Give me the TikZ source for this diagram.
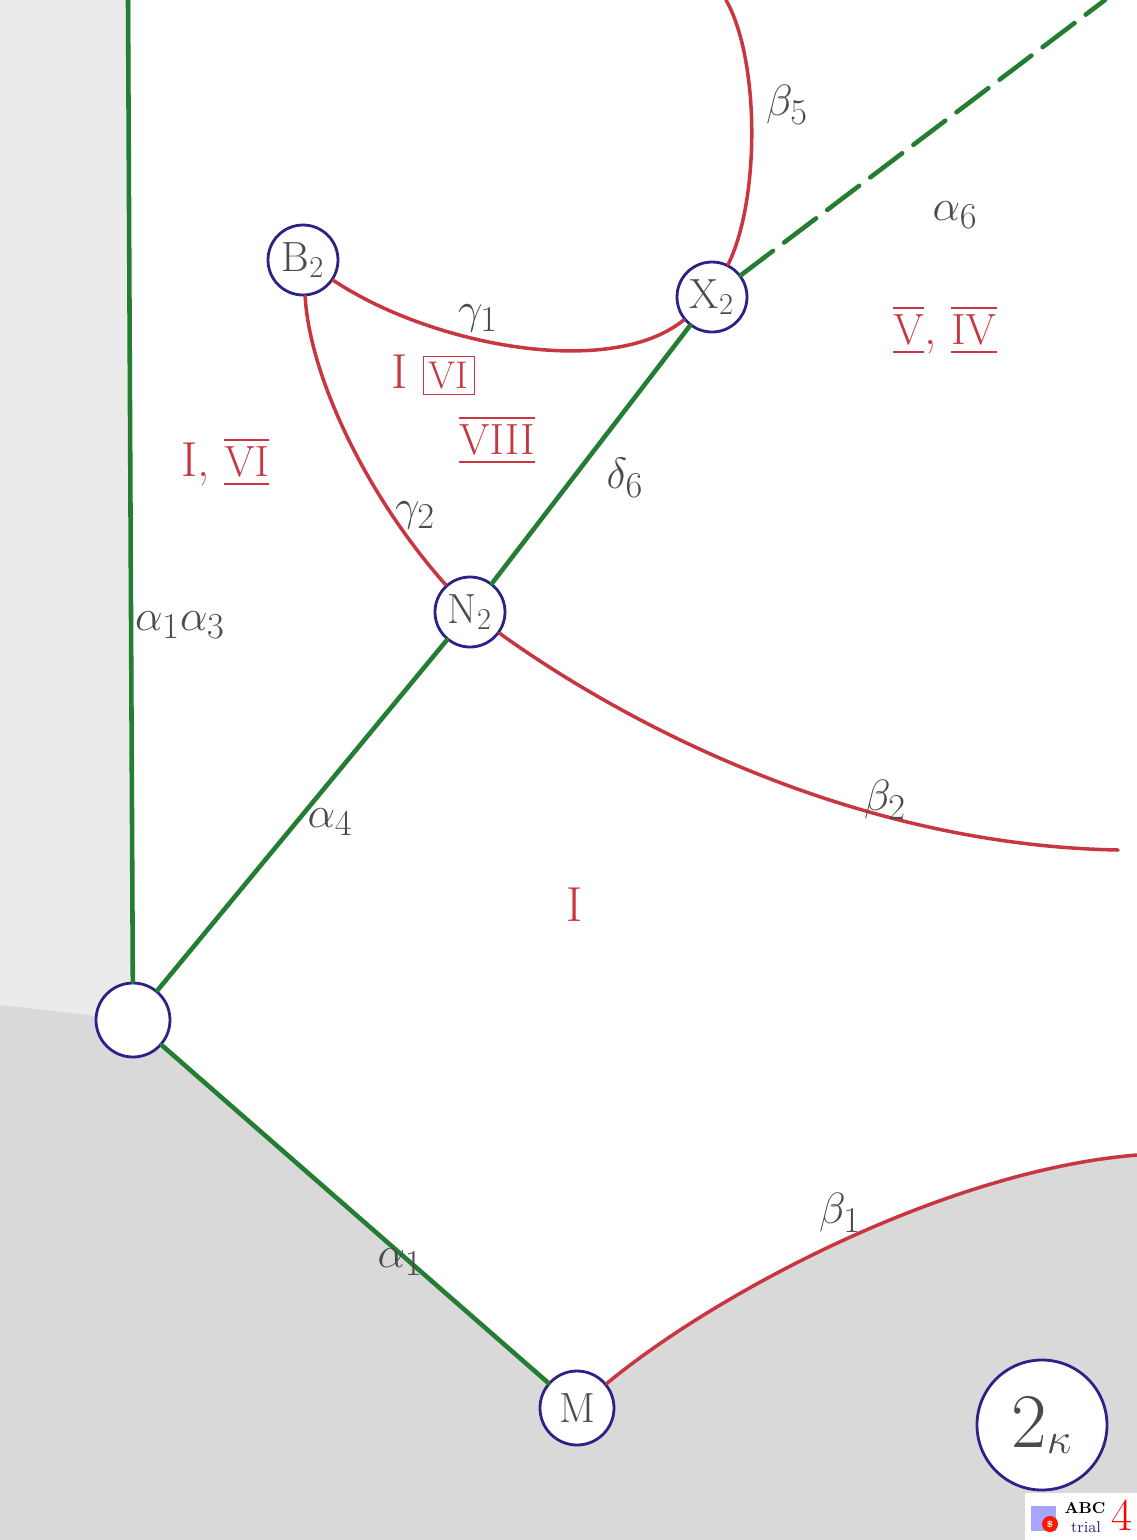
\documentclass[tikz,border=0pt]{standalone}
\usepackage{amsmath,amssymb}
\usepackage{tikz}
\usetikzlibrary{positioning,arrows.meta}
\usepackage{xcolor}

\definecolor{penred}{RGB}{200,55,65}
\definecolor{pengreen}{RGB}{35,125,50}
\definecolor{penblue}{RGB}{45,35,135}
\definecolor{pencil}{RGB}{75,75,75}
\newcommand{\barnum}[1]{$\overline{\underline{\mathrm{#1}}}$}

\tikzset{
  vert/.style={circle,draw=penblue,line width=1.6pt,fill=white,inner sep=0pt,
    minimum size=14mm,text=pencil,font=\fontsize{24}{26}\selectfont},
  aedge/.style={draw=pengreen,line width=2.6pt,line cap=round},
  bedge/.style={draw=penred,line width=2pt,line cap=round},
  glabel/.style={text=pencil,font=\fontsize{28}{30}\selectfont},
  rlabel/.style={text=penred,font=\fontsize{28}{30}\selectfont}
}

\begin{document}
\begin{tikzpicture}[x=0.2mm,y=-0.2mm]
\useasboundingbox (0,0) rectangle (1137,1540);
% paper shading
\fill[gray!16] (0,0) rectangle (131,1540);
\fill[gray!30] (0,1005) -- (133,1020) -- (577,1408) -- (605,1384)
  .. controls (720,1290) and (950,1170) .. (1137,1155) -- (1137,1540) -- (0,1540) -- cycle;

% vertices
\node[vert] (B2) at (303,260) {B$_2$};
\node[vert] (X2) at (712,297) {X$_2$};
\node[vert] (N2) at (470,612) {N$_2$};
\node[vert,minimum size=14.8mm] (O) at (133,1020) {};
\node[vert,minimum size=14.8mm] (M) at (577,1408) {M};
\node[vert,minimum size=26mm,font=\fontsize{44}{48}\selectfont] (K) at (1042,1425) {2$_\kappa$};

\coordinate (topA) at (128,0);
\coordinate (topB) at (726,0);
\coordinate (endA) at (1105,0);
\coordinate (endB) at (1118,850);
\coordinate (endC) at (1137,1155);

% green edges
\draw[aedge] (topA) -- (O);
\draw[aedge] (O) -- (N2);
\draw[aedge] (N2) -- (X2);
\draw[aedge,dash pattern=on 8mm off 2.8mm] (X2) -- (endA);
\draw[aedge] (O) -- (M);

% red edges
\draw[bedge] (B2) .. controls (430,345) and (610,380) .. (X2);
\draw[bedge] (B2) .. controls (310,380) and (370,500) .. (N2);
\draw[bedge] (X2) .. controls (760,200) and (760,60) .. (topB);
\draw[bedge] (N2) .. controls (620,720) and (850,845) .. (endB);
\draw[bedge] (M) .. controls (720,1290) and (950,1170) .. (endC);

% edge labels
\node[glabel] (lb5) at (787,105) {$\beta_5$};
\node[glabel] (la6) at (955,215) {$\alpha_6$};
\node[glabel] (lg1) at (478,318) {$\gamma_1$};
\node[glabel] (lg2) at (415,515) {$\gamma_2$};
\node[glabel] (ld6) at (625,478) {$\delta_6$};
\node[glabel] (la13) at (180,625) {$\alpha_1\alpha_3$};
\node[glabel] (la4) at (330,822) {$\alpha_4$};
\node[glabel] (lb2) at (885,800) {$\beta_2$};
\node[glabel] (lb1) at (840,1213) {$\beta_1$};
\node[glabel] (la1) at (400,1262) {$\alpha_1$};

% region labels
\node[rlabel] (r1) at (433,375) {I \fbox{\fontsize{22}{24}\selectfont VI}};
\node[rlabel] (r2) at (945,330) {\barnum{V}, \barnum{IV}};
\node[rlabel] (r3) at (225,462) {I, \barnum{VI}};
\node[rlabel] (r4) at (497,440) {\barnum{VIII}};
\node[rlabel] (r5) at (575,905) {I};

% trial stamp
\fill[white] (1025,1493) rectangle (1137,1540);
\node[fill=blue!35,minimum size=5mm,inner sep=0pt] (icon) at (1043,1518) {};
\node[circle,fill=red!80!orange,minimum size=3.2mm,inner sep=0pt,text=white,font=\tiny\bfseries] (tag) at (1050,1524) {\$};
\node[font=\bfseries\fontsize{9}{10}\selectfont] (abc) at (1085,1508) {ABC};
\node[text=penblue,font=\fontsize{9}{10}\selectfont] (trial) at (1086,1527) {trial};
\node[text=red,font=\fontsize{26}{28}\selectfont] (four) at (1122,1515) {4};
\end{tikzpicture}
\end{document}
